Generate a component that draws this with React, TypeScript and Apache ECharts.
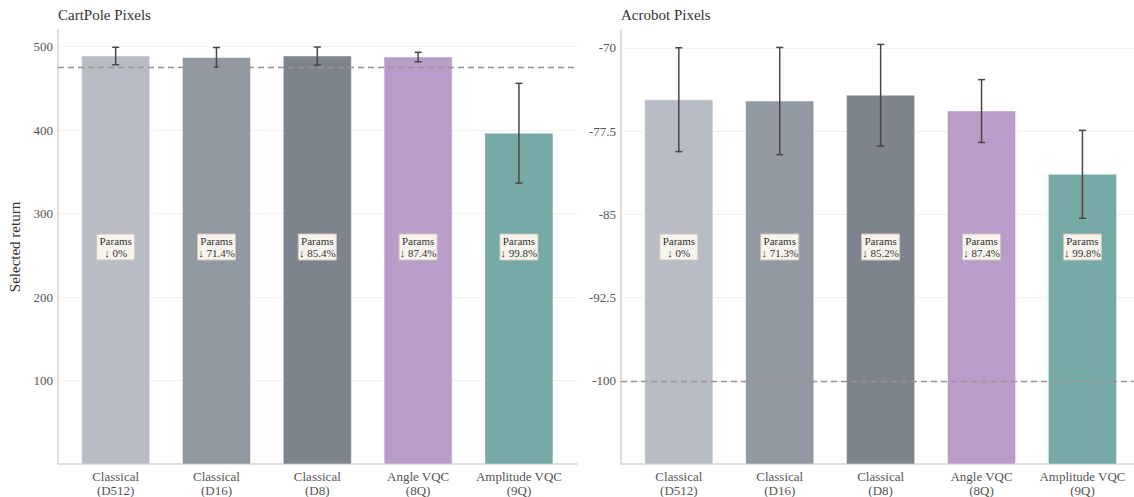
import React, { useEffect, useRef } from 'react';
import * as echarts from 'echarts';

const categories = ['Classical\n(D512)', 'Classical\n(D16)', 'Classical\n(D8)', 'Angle VQC\n(8Q)', 'Amplitude VQC\n(9Q)'];
const categoryIndex = [0, 1, 2, 3, 4];
const barColors = ['#b8bcc5', '#9299a3', '#7e848e', '#b89dc9', '#75aaa6'];

const cartpoleMeans = [488.8, 487.2, 488.8, 487.6, 396.3];
const cartpoleErrs = [10.5, 11.8, 10.8, 5.7, 59.8];
const cartpoleParams = ['↓ 0%', '↓ 71.4%', '↓ 85.4%', '↓ 87.4%', '↓ 99.8%'];
const cartpoleThreshold = 475;

const acrobotMeans = [-74.68, -74.8, -74.28, -75.7, -81.4];
const acrobotErrs = [4.68, 4.83, 4.58, 2.83, 3.96];
const acrobotParams = ['↓ 0%', '↓ 71.3%', '↓ 85.2%', '↓ 87.4%', '↓ 99.8%'];
const acrobotThreshold = -100;

const FONT = '"Liberation Serif", "DejaVu Serif", serif';
const BAR_HALF = 0.3375;

function makeRender(yMin: number, params: string[]) {
  return (p: any, api: any) => {
    const i = api.value(0);
    const v = api.value(1);
    const e = api.value(2);
    const tl = api.coord([i - BAR_HALF, v]);
    const br = api.coord([i + BAR_HALF, yMin]);
    const top = api.coord([i, v + e]);
    const bot = api.coord([i, v - e]);
    const cx = (tl[0] + br[0]) / 2;
    const cs = p.coordSys;
    const midY = cs.y + cs.height / 2;
    const cap = 3.5;
    const errStyle = { stroke: '#4d4540', lineWidth: 1.5 };
    return {
      type: 'group',
      children: [
        {
          type: 'rect',
          shape: { x: tl[0], y: tl[1], width: br[0] - tl[0], height: br[1] - tl[1] },
          style: { fill: barColors[i], stroke: 'rgba(255,255,255,0.45)', lineWidth: 1 },
        },
        { type: 'line', shape: { x1: cx, y1: top[1], x2: cx, y2: bot[1] }, style: errStyle },
        { type: 'line', shape: { x1: cx - cap, y1: top[1], x2: cx + cap, y2: top[1] }, style: errStyle },
        { type: 'line', shape: { x1: cx - cap, y1: bot[1], x2: cx + cap, y2: bot[1] }, style: errStyle },
        {
          type: 'rect',
          shape: { x: cx - 19, y: midY - 13, width: 38, height: 26 },
          style: { fill: '#f7f4ee', stroke: '#cfc6ba', lineWidth: 1 },
        },
        {
          type: 'text',
          x: cx,
          y: midY,
          style: {
            text: 'Params\n' + params[i],
            fill: '#333333',
            fontSize: 11,
            fontFamily: FONT,
            lineHeight: 11.5,
            align: 'center',
            verticalAlign: 'middle',
          },
        },
      ],
    };
  };
}

function xAxisCfg(gridIndex: number, min: number, max: number) {
  return {
    gridIndex,
    type: 'value',
    min,
    max,
    splitLine: { show: false },
    axisTick: { show: false },
    axisLine: { show: true, onZero: false, lineStyle: { color: '#d8d2cb', width: 1.5 } },
    axisLabel: {
      customValues: categoryIndex,
      formatter: (v: number) => categories[Math.round(v)],
      color: '#555555',
      fontSize: 13,
      lineHeight: 14,
      margin: 5,
      fontFamily: FONT,
    },
  };
}

function yAxisCfg(gridIndex: number, min: number, max: number, interval: number, name?: string) {
  return {
    gridIndex,
    type: 'value',
    min,
    max,
    interval,
    name: name || '',
    nameLocation: 'middle',
    nameGap: 36,
    nameTextStyle: { fontSize: 15, color: '#333333', fontFamily: FONT },
    axisTick: { show: false },
    axisLine: { show: true, onZero: false, lineStyle: { color: '#d8d2cb', width: 1.5 } },
    splitLine: { show: true, showMaxLine: false, showMinLine: false, lineStyle: { color: '#f1f0ef', width: 1 } },
    axisLabel: {
      showMinLabel: false,
      showMaxLabel: false,
      color: '#555555',
      fontSize: 13,
      margin: 5,
      fontFamily: FONT,
    },
  };
}

const dashed = (value: number) => ({
  silent: true,
  symbol: 'none',
  label: { show: false },
  lineStyle: { type: [6, 4], color: '#9a9590', width: 1.3 },
  data: [{ yAxis: value }],
});

export default function App() {
  const ref = useRef<HTMLDivElement>(null);
  useEffect(() => {
    if (!ref.current) return;
    const chart = echarts.init(ref.current, null, { renderer: 'svg' });
    const cartMin = 0;
    const acroMin = -107.5;
    chart.setOption({
      animation: false,
      backgroundColor: '#ffffff',
      title: [
        { text: 'CartPole Pixels', left: 53, top: 2, textStyle: { fontSize: 15, fontWeight: 'normal', color: '#333333', fontFamily: FONT } },
        { text: 'Acrobot Pixels', left: 616, top: 2, textStyle: { fontSize: 15, fontWeight: 'normal', color: '#333333', fontFamily: FONT } },
      ],
      grid: [
        { left: 58, top: 30, width: 519, height: 435 },
        { left: 621, top: 30, width: 513, height: 435 },
      ],
      xAxis: [xAxisCfg(0, -0.572, 4.576), xAxisCfg(1, -0.573, 4.511)],
      yAxis: [
        yAxisCfg(0, cartMin, 520, 100, 'Selected return'),
        yAxisCfg(1, acroMin, -68.4, 7.5),
      ],
      series: [
        {
          type: 'custom',
          xAxisIndex: 0,
          yAxisIndex: 0,
          encode: { x: 0, y: 1 },
          data: categoryIndex.map((i) => [i, cartpoleMeans[i], cartpoleErrs[i]]),
          renderItem: makeRender(cartMin, cartpoleParams),
          markLine: dashed(cartpoleThreshold),
        },
        {
          type: 'custom',
          xAxisIndex: 1,
          yAxisIndex: 1,
          encode: { x: 0, y: 1 },
          data: categoryIndex.map((i) => [i, acrobotMeans[i], acrobotErrs[i]]),
          renderItem: makeRender(acroMin, acrobotParams),
          markLine: dashed(acrobotThreshold),
        },
      ],
    });
    return () => chart.dispose();
  }, []);
  return <div ref={ref} style={{ position: 'fixed', left: 0, top: 0, width: 1134, height: 497 }} />;
}
